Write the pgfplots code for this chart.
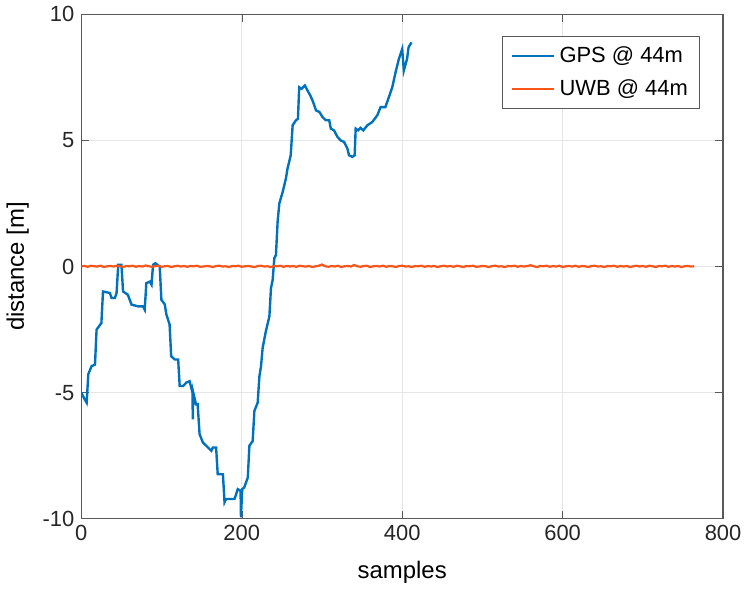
\documentclass[border=0pt]{standalone}
\usepackage{fontspec}
\setmainfont{Liberation Sans}
\usepackage{pgfplots}
\pgfplotsset{compat=1.18}
\definecolor{gpsblue}{rgb}{0,0.447,0.741}
\definecolor{uwborange}{RGB}{250,85,25}

\begin{document}
\begin{tikzpicture}
\begin{axis}[
    scale only axis,
    width=322pt, height=253pt,
    xmin=0, xmax=800, ymin=-10, ymax=10,
    xtick={0,200,...,800}, ytick={-10,-5,0,5,10},
    grid=major,
    major grid style={gray!20, line width=0.5pt},
    axis line style={gray!70!black, line width=0.6pt},
    tick style={gray!70!black},
    tick align=inside,
    major tick length=4pt,
    every tick label/.append style={font=\fontsize{11}{13}\selectfont, text=black!85},
    /pgf/number format/assume math mode=true,
    xlabel={samples}, ylabel={distance [m]},
    label style={font=\fontsize{12}{14}\selectfont},
    xlabel style={yshift=-3pt},
    ylabel style={yshift=0pt},
    legend style={at={(1,1)}, anchor=north east, xshift=-11.5pt, yshift=-11pt,
        font=\fontsize{11}{13}\selectfont, draw=gray!70!black, row sep=3pt,
        inner xsep=4pt, inner ysep=3pt},
    legend cell align=left,
    legend image code/.code={\draw[#1, line width=1.2pt] (0cm,0cm) -- (0.75cm,0cm);},
]
\addplot[gpsblue, line width=1.2pt] coordinates {
(0,-5.0) (3,-5.2) (6.6,-5.4) (8.7,-4.27) (12.8,-3.95) (17,-3.89) (19,-2.5) (25,-2.24)
(27,-0.99) (35.6,-1.05) (37.7,-1.25) (41.8,-1.25) (43.9,-1.05) (46,0.07) (50,0.07)
(52,-0.99) (58,-1.12) (62.5,-1.51) (70.7,-1.58) (77,-1.58) (79,-1.71) (81,-0.66)
(85.3,-0.6) (87.5,-0.72) (89.4,0.07) (92.3,0.13) (97.7,0.0) (99.8,-1.32) (104,-1.5)
(106,-1.9) (110,-2.3) (112,-3.56) (116.6,-3.69) (120.7,-3.69) (122.6,-4.74) (126.8,-4.74)
(131,-4.6) (135,-4.55) (138.5,-5.0) (139,-6.06) (139.5,-5.0) (143,-5.47) (145,-5.47)
(147.4,-6.65) (151.5,-6.98) (155.7,-7.11) (162,-7.31) (164,-7.18) (168,-7.18) (170,-8.24)
(176.5,-8.24) (178.5,-9.35) (180.5,-9.22) (191,-9.22) (195,-8.83) (198.5,-8.9) (199,-9.95)
(200.5,-8.83) (203,-8.77) (207.5,-8.37) (209.5,-7.11) (213.6,-6.92) (215.7,-5.73)
(219.8,-5.4) (222,-4.35) (224,-3.95) (226,-3.23) (230,-2.57) (234.4,-1.98) (236.4,-0.86)
(238.5,-0.53) (240.6,0.33) (242.6,0.46) (244.7,1.78) (246.8,2.5) (251,2.96) (255,3.49)
(257,3.88) (261,4.41) (263.4,5.6) (267.5,5.8) (270,5.86) (271.6,7.11) (274.5,7.05)
(278.7,7.18) (282,6.98) (285.5,6.78) (288.3,6.58) (292.6,6.19) (296.8,6.13) (300.6,5.93)
(304.8,5.8) (309,5.8) (311,5.47) (315,5.4) (319.3,5.14) (323.4,5.0) (327.5,4.94)
(331.7,4.68) (333.7,4.41) (337.9,4.35) (340.7,4.41) (342,5.47) (345,5.4) (348,5.5)
(351.5,5.4) (356.5,5.6) (362.6,5.73) (369,6.0) (373,6.32) (379,6.32) (383.4,6.72)
(387.6,7.11) (391.7,7.7) (395.8,8.23) (400,8.63) (402,7.77) (406,8.23) (408,8.7) (411.6,8.89)
};
\addlegendentry{GPS @ 44m}
\addplot[uwborange, line width=1.1pt] coordinates {
(0,0.01) (4,0.02) (8,-0.01) (12,0.03) (16,0.01) (20,0.0) (24,0.03) (28,-0.02) (32,0.01)
(36,0.02) (40,0.0) (44,0.03) (48,0.01) (52,-0.02) (56,0.02) (60,0.01) (64,0.03) (68,-0.01)
(72,0.02) (76,0.0) (80,0.04) (84,0.01) (88,-0.01) (92,0.02) (96,0.03) (100,-0.01) (104,0.01)
(108,0.02) (112,-0.02) (116,0.01) (120,0.03) (124,0.0) (128,0.02) (132,-0.01) (136,0.02)
(140,0.01) (144,0.03) (148,-0.01) (152,0.0) (156,0.02) (160,0.01) (164,-0.02) (168,0.02)
(172,0.03) (176,0.0) (180,0.01) (184,-0.02) (188,0.02) (192,0.01) (196,0.03) (200,-0.01)
(204,0.01) (208,0.02) (212,0.0) (216,-0.02) (220,0.02) (224,0.03) (228,0.0) (232,0.01)
(236,-0.02) (240,0.02) (244,0.01) (248,0.03) (252,-0.01) (256,0.02) (260,0.0) (264,0.02)
(268,-0.01) (272,0.03) (276,0.01) (280,0.0) (284,0.02) (288,-0.02) (292,0.01) (296,0.03)
(300,0.08) (304,0.01) (308,-0.01) (312,0.02) (316,0.0) (320,0.03) (324,-0.02) (328,0.01)
(332,0.02) (336,0.0) (340,0.06) (344,0.01) (348,-0.01) (352,0.02) (356,0.03) (360,-0.02)
(364,0.01) (368,0.02) (372,0.0) (376,0.03) (380,-0.01) (384,0.02) (388,0.01) (392,-0.02)
(396,0.02) (400,0.03) (404,0.0) (408,0.01) (412,-0.02) (416,0.02) (420,0.01) (424,0.03)
(428,-0.01) (432,0.02) (436,0.0) (440,0.02) (444,-0.02) (448,0.01) (452,0.03) (456,0.0)
(460,0.02) (464,-0.01) (468,0.03) (472,0.01) (476,-0.02) (480,0.02) (484,0.01) (488,0.03)
(492,-0.01) (496,0.0) (500,0.02) (504,0.01) (508,-0.02) (512,0.02) (516,0.03) (520,0.0)
(524,0.01) (528,-0.02) (532,0.02) (536,0.01) (540,0.03) (544,-0.01) (548,0.02) (552,0.0)
(556,0.02) (560,0.05) (564,0.01) (568,-0.02) (572,0.02) (576,0.01) (580,0.03) (584,-0.01)
(588,0.02) (592,0.0) (596,0.03) (600,-0.02) (604,0.01) (608,0.02) (612,0.0) (616,0.03)
(620,-0.01) (624,0.02) (628,0.01) (632,-0.02) (636,0.02) (640,0.03) (644,0.0) (648,0.01)
(652,-0.02) (656,0.02) (660,0.01) (664,0.03) (668,-0.01) (672,0.02) (676,0.0) (680,0.02)
(684,-0.02) (688,0.01) (692,0.03) (696,0.0) (700,0.02) (704,-0.01) (708,0.03) (712,0.01)
(716,-0.02) (720,0.02) (724,0.01) (728,0.03) (732,-0.01) (736,0.02) (740,0.0) (744,0.02)
(748,-0.02) (752,0.01) (756,0.02) (760,0.0) (764,0.01)
};
\addlegendentry{UWB @ 44m}
\end{axis}
\end{tikzpicture}
\end{document}
